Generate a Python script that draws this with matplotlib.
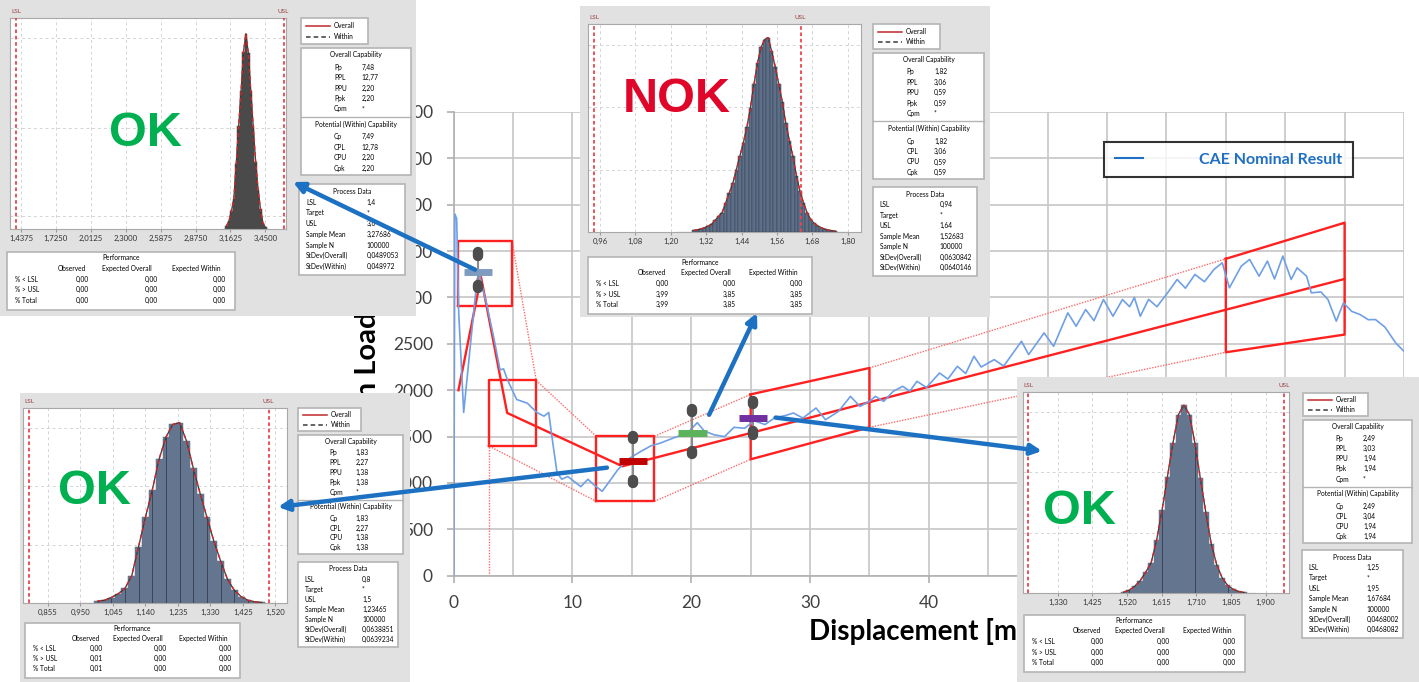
# coding: utf-8
"""Crash load curve with process capability insets."""

import matplotlib
matplotlib.use("Agg")
from matplotlib import pyplot as plt
from matplotlib import transforms
from matplotlib.patches import Rectangle

plt.rcParams["font.family"] = ["Lato", "DejaVu Sans"]

W, H = 1419, 682

# Main CAE curve
disp = [0.0, 0.1, 0.25, 0.42, 0.84, 1.4, 1.97, 2.2, 2.8, 3.4, 3.9, 4.2, 4.5,
        5.3, 6.2, 7.0, 7.6, 8.0, 8.3, 8.7, 9.1, 9.6, 10.1, 10.7, 11.3, 11.8,
        12.5, 12.9, 13.8, 14.6, 15.75, 16.6, 17.4, 18.6, 19.7, 20.5, 21.1,
        21.9, 22.8, 23.6, 24.5, 25.3, 26.2, 27.0, 28.0, 28.6, 29.4, 30.5,
        31.3, 32.4, 33.4, 34.2, 35.0, 35.5, 36.2, 37.0, 37.8, 38.4, 39.0,
        39.8, 40.9, 41.6, 42.4, 43.1, 43.8, 44.4, 45.5, 46.3, 47.8, 48.4,
        49.7, 50.5, 51.7, 52.4, 53.2, 53.9, 54.7, 55.5, 56.3, 56.9, 57.3,
        57.8, 58.5, 59.2, 60.1, 60.9, 61.6, 62.4, 63.2, 64.0, 64.7, 65.3,
        66.3, 67.0, 67.8, 68.5, 69.1, 69.8, 70.5, 71.0, 71.8, 72.2, 73.0,
        73.6, 74.3, 74.9, 75.6, 76.3, 77.0, 77.6, 78.4, 79.3, 80.0]
load = [0, 3900, 3850, 2840, 1760, 2480, 3200, 3230, 2910, 2550, 2220, 2230,
        2120, 1900, 1860, 1760, 1720, 1760, 1470, 1110, 1040, 1070, 1020, 960,
        1040, 980, 910, 980, 1140, 1250, 1340, 1400, 1430, 1490, 1540, 1650,
        1560, 1520, 1500, 1600, 1590, 1670, 1630, 1700, 1730, 1754, 1700,
        1808, 1682, 1772, 1934, 1826, 1880, 1934, 1880, 1988, 2042, 1990,
        2096, 2030, 2186, 2120, 2258, 2180, 2366, 2250, 2330, 2260, 2528,
        2384, 2618, 2474, 2834, 2690, 2870, 2750, 2978, 2798, 2978, 2900,
        3000, 2798, 2980, 2900, 3050, 3194, 3100, 3248, 3170, 3302, 3374,
        3104, 3338, 3410, 3230, 3392, 3200, 3446, 3194, 3320, 3230, 3050,
        3060, 2978, 2744, 2942, 2850, 2816, 2760, 2762, 2680, 2510, 2420]

# Nominal target line and tolerance boxes
nominal_x = [0.4, 2.3, 4.5, 14.2, 75.0]
nominal_y = [2000, 3220, 1755, 1180, 3200]
rect_x = [(0.4, 4.9), (3.0, 6.95), (12.0, 16.9)]
rect_y = [(2910, 3610), (1396, 2105), (802, 1504)]
para_x = [(25, 35), (65, 75)]
para_top = [(1955, 2240), (3417, 3806)]
para_bottom = [(1255, 1600), (2409, 2600)]
envelope_x = [(4.9, 6.95), (6.95, 12.0), (16.9, 25), (35, 65),
              (3.0, 12.0), (16.9, 25), (35, 65), (3.0, 3.0)]
envelope_y = [(3610, 2105), (2105, 1504), (1504, 1955), (2240, 3417),
              (1396, 802), (802, 1255), (1600, 2409), (0, 1396)]

# Check points
check_x = [2.05, 15.1, 20.1, 25.2]
check_mean = [3280, 1240, 1540, 1700]
check_upper = [3470, 1490, 1780, 1865]
check_lower = [3120, 1015, 1325, 1540]
check_colors = ["#7f9cc0", "#c00000", "#5cb35c", "#7030a0"]

# Capability studies
a_bins = [3.13, 3.15, 3.17, 3.19, 3.21, 3.23, 3.25, 3.27, 3.29, 3.31, 3.33,
          3.35, 3.37, 3.39, 3.41, 3.43, 3.45]
a_counts = [0.015, 0.04, 0.09, 0.15, 0.33, 0.52, 0.7, 0.9, 0.99, 0.89, 0.7,
            0.52, 0.34, 0.2, 0.1, 0.03, 0.008]
a_ticks = [1.4375, 1.725, 2.0125, 2.3, 2.5875, 2.875, 3.1625, 3.45]
a_labels = ["1,4375", "1,7250", "2,0125", "2,3000", "2,5875", "2,8750",
            "3,1625", "3,4500"]
a_cap = ["7,48", "12,77", "2,20", "2,20", "*", "7,49", "12,78", "2,20", "2,20"]
a_proc = ["1,4", "*", "3,6", "3,27686", "100000", "0,0489053", "0,048972"]
a_perf = [["0,00", "0,00", "0,00"], ["0,00", "0,00", "0,00"],
          ["0,00", "0,00", "0,00"]]

b_bins = [1.278, 1.290, 1.302, 1.314, 1.326, 1.338, 1.350, 1.362, 1.374,
          1.386, 1.398, 1.410, 1.422, 1.434, 1.446, 1.458, 1.470, 1.482,
          1.494, 1.506, 1.518, 1.530, 1.542, 1.554, 1.566, 1.578, 1.590,
          1.602, 1.614, 1.626, 1.638, 1.650, 1.662, 1.674, 1.686, 1.698,
          1.710, 1.722, 1.734, 1.746, 1.758]
b_counts = [0.008, 0.012, 0.016, 0.022, 0.03, 0.04, 0.06, 0.08, 0.1, 0.15,
            0.2, 0.25, 0.32, 0.39, 0.46, 0.54, 0.64, 0.76, 0.87, 0.95, 0.99,
            1.0, 0.93, 0.85, 0.76, 0.67, 0.56, 0.47, 0.39, 0.29, 0.21, 0.15,
            0.1, 0.065, 0.045, 0.032, 0.022, 0.015, 0.01, 0.007, 0.004]
b_ticks = [0.96, 1.08, 1.20, 1.32, 1.44, 1.56, 1.68, 1.80]
b_labels = ["0,96", "1,08", "1,20", "1,32", "1,44", "1,56", "1,68", "1,80"]
b_cap = ["1,82", "3,06", "0,59", "0,59", "*", "1,82", "3,06", "0,59", "0,59"]
b_proc = ["0,94", "*", "1,64", "1,52683", "100000", "0,0630842", "0,0640146"]
b_perf = [["0,00", "0,00", "0,00"], ["3,99", "3,85", "3,85"],
          ["3,99", "3,85", "3,85"]]

c_bins = [1.00, 1.02, 1.04, 1.06, 1.08, 1.10, 1.12, 1.14, 1.16, 1.18, 1.20,
          1.22, 1.24, 1.26, 1.28, 1.30, 1.32, 1.34, 1.36, 1.38, 1.40, 1.42,
          1.44, 1.46, 1.48]
c_counts = [0.01, 0.015, 0.03, 0.05, 0.08, 0.15, 0.31, 0.47, 0.62, 0.79,
            0.91, 0.98, 0.99, 0.89, 0.74, 0.6, 0.47, 0.34, 0.23, 0.13, 0.07,
            0.035, 0.015, 0.007, 0.003]
c_ticks = [0.855, 0.95, 1.045, 1.14, 1.235, 1.33, 1.425, 1.52]
c_labels = ["0,855", "0,950", "1,045", "1,140", "1,235", "1,330", "1,425",
            "1,520"]
c_cap = ["1,83", "2,27", "1,38", "1,38", "*", "1,83", "2,27", "1,38", "1,38"]
c_proc = ["0,8", "*", "1,5", "1,23465", "100000", "0,0638851", "0,0639234"]
c_perf = [["0,00", "0,00", "0,00"], ["0,01", "0,00", "0,00"],
          ["0,01", "0,00", "0,00"]]

d_bins = [1.511, 1.526, 1.541, 1.556, 1.571, 1.586, 1.601, 1.616, 1.631,
          1.646, 1.661, 1.676, 1.691, 1.706, 1.721, 1.736, 1.751, 1.766,
          1.781, 1.796, 1.811, 1.826, 1.841]
d_counts = [0.005, 0.015, 0.035, 0.065, 0.11, 0.16, 0.28, 0.44, 0.62, 0.8,
            0.95, 1.0, 0.95, 0.8, 0.61, 0.43, 0.26, 0.15, 0.08, 0.04, 0.02,
            0.008, 0.003]
d_ticks = [1.33, 1.425, 1.52, 1.615, 1.71, 1.805, 1.90]
d_labels = ["1,330", "1,425", "1,520", "1,615", "1,710", "1,805", "1,900"]
d_cap = ["2,49", "3,03", "1,94", "1,94", "*", "2,49", "3,04", "1,94", "1,94"]
d_proc = ["1,25", "*", "1,95", "1,67684", "100000", "0,0468002", "0,0468082"]
d_perf = [["0,00", "0,00", "0,00"], ["0,00", "0,00", "0,00"],
          ["0,00", "0,00", "0,00"]]

GRAY = "#e1e1e1"
FS = 4.8


def px_rect(x0, y0, x1, y1):
    """Figure fraction rectangle from pixel corners (y down)."""
    return [x0 / W, 1 - y1 / H, (x1 - x0) / W, (y1 - y0) / H]


def white_box(panel, rect):
    bx0, by0, bx1, by1 = rect
    panel.add_patch(Rectangle((bx0, by0), bx1 - bx0, by1 - by0,
                              facecolor="white", edgecolor="#b4b4b4", lw=1.2))
    return bx0, by0, bx1 - bx0, by1 - by0


def capability(lay, xlim, ticks, labels, lsl, usl, bins, counts, width, fill,
               edge, stripes, ygrid, verdict, verdict_color, cap, proc, perf):
    # Gray panel in pixel coordinates
    x0, y0, x1, y1 = lay["panel"]
    panel = fig.add_axes(px_rect(x0, y0, x1, y1))
    panel.set_zorder(2)
    panel.set_facecolor(GRAY)
    panel.set_xlim(x0, x1)
    panel.set_ylim(y1, y0)
    panel.set_xticks([])
    panel.set_yticks([])
    for side in panel.spines:
        panel.spines[side].set_visible(False)

    # Histogram
    hist = fig.add_axes(px_rect(*lay["hist"]))
    hist.set_zorder(3)
    hist.bar(bins, counts, width=width, color=fill, edgecolor=edge, lw=0.35,
             zorder=2)
    if stripes:
        start, step = stripes
        hist.vlines(bins[start::step], 0, counts[start::step],
                    color="#3a4658", lw=0.7, zorder=3)
    span = bins[-1] - bins[0]
    hist.plot([bins[0] - 0.12 * span, bins[-1] + 0.08 * span], [0, 0],
              color="#555555", lw=0.8, zorder=3)
    hist.plot(bins, counts, color="#3a3a3a", lw=0.9, zorder=4)
    hist.plot(bins, counts, color="#d02828", lw=1.0, ls=(0, (3, 2)), zorder=5)
    trans = transforms.blended_transform_factory(hist.transData,
                                                 hist.transAxes)
    for value, name in ((lsl, "LSL"), (usl, "USL")):
        hist.axvline(value, color="#e8474c", lw=1.3, ls=(0, (2, 1.5)),
                     zorder=4)
        hist.text(value, 1.02, name, transform=trans, ha="center",
                  va="bottom", fontsize=4.6, color="#9a3b3b")
    hist.set_xlim(*xlim)
    hist.set_ylim(0, 1.07)
    hist.set_xticks(ticks)
    hist.set_xticklabels(labels)
    hist.set_yticks([g * 1.07 for g in ygrid])
    hist.tick_params(axis="x", labelsize=5.6, length=2, pad=2,
                     color="#999999", labelcolor="#333333")
    hist.tick_params(axis="y", length=0, labelleft=False)
    hist.grid(True, ls=(0, (3, 3)), color="#d4d4d4", lw=0.7, zorder=0)
    for side in hist.spines:
        hist.spines[side].set_color("#a8a8a8")

    # Verdict, drawn with the histogram so that it stays on top
    hist.text(*lay["verdict"], verdict, transform=panel.transData,
              fontsize=35, fontweight="bold", family="Liberation Sans",
              color=verdict_color, ha="center", va="center", zorder=6)

    # Legend box
    bx, by, bw, bh = white_box(panel, lay["legend"])
    panel.plot([bx + 5, bx + 29], [by + 0.3 * bh] * 2, color="#c0282d", lw=1.1)
    panel.plot([bx + 5, bx + 29], [by + 0.72 * bh] * 2, color="#3a3a3a",
               lw=1.1, ls=(0, (3, 2)))
    panel.text(bx + 33, by + 0.3 * bh, "Overall", fontsize=FS, va="center")
    panel.text(bx + 33, by + 0.72 * bh, "Within", fontsize=FS, va="center")

    # Capability box
    bx, by, bw, bh = white_box(panel, lay["cap"])
    panel.text(bx + bw / 2, by + 0.055 * bh, "Overall Capability",
               fontsize=FS, ha="center", va="center")
    for i, name in enumerate(["Pp", "PPL", "PPU", "Ppk", "Cpm"]):
        yy = by + (0.15 + 0.0825 * i) * bh
        panel.text(bx + 0.3 * bw, yy, name, fontsize=FS, va="center")
        panel.text(bx + 0.55 * bw, yy, cap[i], fontsize=FS, va="center")
    panel.plot([bx, bx + bw], [by + 0.543 * bh] * 2, color="#b4b4b4", lw=1.0)
    panel.text(bx + bw / 2, by + 0.6 * bh, "Potential (Within) Capability",
               fontsize=FS, ha="center", va="center")
    for i, name in enumerate(["Cp", "CPL", "CPU", "Cpk"]):
        yy = by + (0.70 + 0.0825 * i) * bh
        panel.text(bx + 0.3 * bw, yy, name, fontsize=FS, va="center")
        panel.text(bx + 0.55 * bw, yy, cap[5 + i], fontsize=FS, va="center")

    # Process data box
    bx, by, bw, bh = white_box(panel, lay["proc"])
    panel.text(bx + bw / 2, by + 0.08 * bh, "Process Data", fontsize=FS,
               ha="center", va="center")
    names = ["LSL", "Target", "USL", "Sample Mean", "Sample N",
             "StDev(Overall)", "StDev(Within)"]
    for i, name in enumerate(names):
        yy = by + (0.2 + 0.118 * i) * bh
        panel.text(bx + 0.066 * bw, yy, name, fontsize=FS, va="center")
        panel.text(bx + 0.64 * bw, yy, proc[i], fontsize=FS, va="center")

    # Performance box
    bx, by, bw, bh = white_box(panel, lay["perf"])
    panel.text(bx + 0.5 * bw, by + 0.1 * bh, "Performance", fontsize=FS,
               ha="center", va="center")
    for col, name in zip([0.285, 0.526, 0.829],
                         ["Observed", "Expected Overall", "Expected Within"]):
        panel.text(bx + col * bw, by + 0.28 * bh, name, fontsize=FS,
                   ha="center", va="center")
    for r, name in enumerate(["% < LSL", "% > USL", "% Total"]):
        yy = by + (0.47 + 0.18 * r) * bh
        panel.text(bx + 0.035 * bw, yy, name, fontsize=FS, va="center")
        for c, col in enumerate([0.36, 0.66, 0.96]):
            panel.text(bx + col * bw, yy, perf[r][c], fontsize=FS,
                       ha="right", va="center")


fig = plt.figure(figsize=(W / 100, H / 100), dpi=100)

# Main chart
ax = fig.add_axes(px_rect(453.7, 112, 1404, 575.7))
ax.set_zorder(0)
ax.set_xlim(0, 80)
ax.set_ylim(0, 5000)
ax.set_xticks(range(0, 81, 10))
ax.set_xticklabels(["0", "10", "20", "30", "40", "", "", "", ""])
ax.set_xticks(range(5, 80, 10), minor=True)
ax.set_yticks(range(0, 5001, 500))
ax.grid(True, which="both", color="#c6c6c6", lw=1.2, zorder=0)
ax.tick_params(axis="both", which="major", length=5, width=1.2,
               color="#b0b0b0", labelcolor="#404040", labelsize=12.5)
ax.tick_params(axis="x", which="major", pad=9)
ax.tick_params(axis="y", which="major", pad=10)
ax.tick_params(axis="x", which="minor", length=0)
for side in ["top", "right"]:
    ax.spines[side].set_visible(False)
for side in ["left", "bottom"]:
    ax.spines[side].set_color("#b0b0b0")
    ax.spines[side].set_linewidth(1.2)

for (xa, xb), (ya, yb) in zip(envelope_x, envelope_y):
    ax.plot([xa, xb], [ya, yb], color="#ff6a6a", lw=1.0, ls=(0, (1, 1)),
            zorder=2)
for (xa, xb), (ya, yb) in zip(rect_x, rect_y):
    ax.plot([xa, xb, xb, xa, xa], [ya, ya, yb, yb, ya], color="#ff2020",
            lw=1.7, zorder=3)
for (xa, xb), (ta, tb), (ba, bb) in zip(para_x, para_top, para_bottom):
    ax.plot([xa, xb, xb, xa, xa], [ta, tb, bb, ba, ta], color="#ff2020",
            lw=1.7, zorder=3)
ax.plot(nominal_x, nominal_y, color="#ff2020", lw=1.7, zorder=3)

curve, = ax.plot(disp, load, color="#6f9fe6", lw=1.2, zorder=4,
                 label="CAE Nominal Result")

ax.vlines(check_x, [lo - 70 for lo in check_lower],
          [hi + 30 for hi in check_upper], color="#8c8c8c", lw=1.5, zorder=5)
for x, hi, lo in zip(check_x, check_upper, check_lower):
    for y in (hi, lo):
        ax.plot([x, x], [y - 18, y + 18], color="#4d4d4d", lw=7.5,
                solid_capstyle="round", zorder=6)
for x, y, color in zip(check_x, check_mean, check_colors):
    ax.plot([x - 1.2, x + 1.2], [y, y], color=color, lw=5, zorder=7,
            solid_capstyle="butt")

leg = ax.legend(handles=[curve], loc="upper left",
                bbox_to_anchor=(0.6845, 0.935), borderaxespad=0,
                frameon=True, fancybox=False, edgecolor="black",
                handlelength=1.8, handletextpad=3.5, borderpad=0.65,
                prop=dict(size=11.5, weight="bold"))
leg.get_frame().set_linewidth(1.5)
leg.get_lines()[0].set_color("#1f6fc4")
leg.get_lines()[0].set_linewidth(1.5)
for text in leg.get_texts():
    text.set_color("#1f6fc4")

ax.set_xlabel("Displacement [mm]", fontsize=20, fontweight="bold")
ax.xaxis.set_label_coords(0.5, -0.092)
ax.set_ylabel("Crash Load [N]", fontsize=21, fontweight="bold")
ax.yaxis.set_label_coords(-0.077, 0.466)

# Insets
lay_a = dict(panel=(0, 0, 416, 316), hist=(10, 18, 286, 229),
             legend=(301, 18, 368, 44), cap=(301, 48, 411, 175),
             proc=(299, 184, 405, 275), perf=(7, 252, 235, 310),
             verdict=(145, 133))
lay_b = dict(panel=(580, 6, 990, 317), hist=(588, 24, 861, 232),
             legend=(873, 24, 940, 49), cap=(873, 53, 984, 179),
             proc=(873, 187, 977, 276), perf=(588, 257, 812, 314),
             verdict=(677, 99))
lay_c = dict(panel=(20, 393, 410, 682), hist=(23, 408, 287, 603),
             legend=(298, 408, 361, 431), cap=(298, 435, 403, 554),
             proc=(298, 562, 398, 647), perf=(25, 623, 240, 678),
             verdict=(94, 491))
lay_d = dict(panel=(1017, 377, 1419, 682), hist=(1023, 392, 1289, 593),
             legend=(1303, 393, 1368, 416), cap=(1303, 420, 1412, 543),
             proc=(1302, 550, 1403, 638), perf=(1024, 615, 1245, 672),
             verdict=(1079, 512))

GREEN = "#00b050"
capability(lay_a, (1.347, 3.62), a_ticks, a_labels, 1.4, 3.6, a_bins,
           a_counts, 0.02, "#4a4a4a", "#4a4a4a", None, [0.06, 0.48, 0.905],
           "OK", GREEN, a_cap, a_proc, a_perf)
capability(lay_b, (0.919, 1.845), b_ticks, b_labels, 0.94, 1.64, b_bins,
           b_counts, 0.012, "#5d6f88", "#34404f", None, [0.3, 0.6, 0.9],
           "NOK", "#e0062a", b_cap, b_proc, b_perf)
capability(lay_c, (0.782, 1.554), c_ticks, c_labels, 0.8, 1.5, c_bins,
           c_counts, 0.02, "#64768f", "#64768f", (0, 2), [0.3, 0.6, 0.9],
           "OK", GREEN, c_cap, c_proc, c_perf)
capability(lay_d, (1.235, 1.964), d_ticks, d_labels, 1.25, 1.95, d_bins,
           d_counts, 0.015, "#64768f", "#64768f", (1, 6), [0.3, 0.6, 0.9],
           "OK", GREEN, d_cap, d_proc, d_perf)

# Arrows from check points to their studies
over = fig.add_axes([0, 0, 1, 1])
over.set_zorder(5)
over.set_xlim(0, W)
over.set_ylim(H, 0)
over.axis("off")
arrow_heads = [(293, 182), (278, 507), (757, 313), (1042, 451)]
arrow_tails = [(1.8, 3300), (12.9, 1165), (21.5, 1735), (27.1, 1705)]
for head, tail in zip(arrow_heads, arrow_tails):
    over.annotate("", xy=head, xycoords="data", xytext=tail,
                  textcoords=ax.transData, annotation_clip=False,
                  arrowprops=dict(arrowstyle="-|>", color="#1c71c2", lw=3.2,
                                  mutation_scale=16, shrinkA=0, shrinkB=0))

fig.savefig("out.png", dpi=100)
